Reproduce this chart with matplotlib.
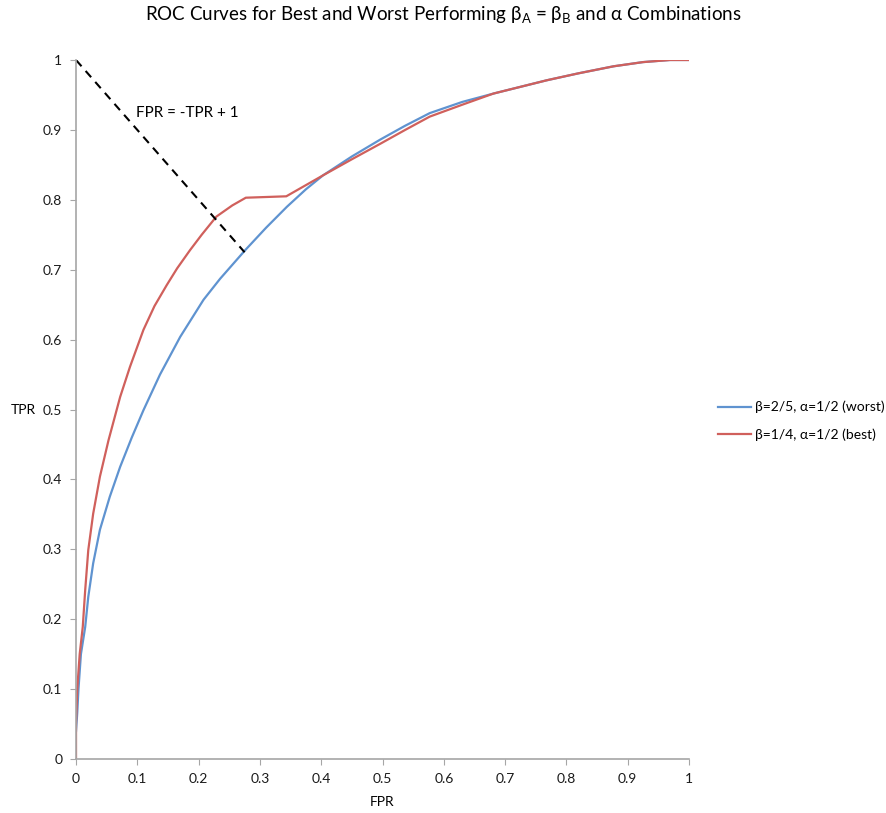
import numpy as np
import matplotlib
matplotlib.use("Agg")
import matplotlib.pyplot as plt

plt.rcParams['font.family'] = ['Lato', 'DejaVu Sans']
plt.rcParams['mathtext.fontset'] = 'custom'
plt.rcParams['mathtext.rm'] = 'Lato'

# worst: beta=2/5, alpha=1/2
fpr_worst = [0.0, 0.002, 0.004, 0.008, 0.015, 0.020, 0.028, 0.039, 0.055, 0.072, 0.091,
             0.110, 0.137, 0.170, 0.208, 0.235, 0.276, 0.310, 0.344, 0.375, 0.403, 0.45,
             0.496, 0.537, 0.577, 0.63, 0.681, 0.768, 0.82, 0.877, 0.925, 0.969, 1.0]
tpr_worst = [0.04, 0.066, 0.1, 0.15, 0.189, 0.232, 0.280, 0.328, 0.375, 0.418, 0.46,
             0.499, 0.55, 0.604, 0.657, 0.687, 0.728, 0.760, 0.790, 0.815, 0.835, 0.862,
             0.886, 0.906, 0.924, 0.940, 0.952, 0.971, 0.981, 0.991, 0.997, 1.0, 1.0]

# best: beta=1/4, alpha=1/2
fpr_best = [0.0, 0.0, 0.002, 0.006, 0.011, 0.015, 0.020, 0.028, 0.039, 0.053, 0.072,
            0.088, 0.110, 0.128, 0.148, 0.165, 0.186, 0.205, 0.229, 0.255, 0.277, 0.343,
            0.403, 0.45, 0.496, 0.537, 0.577, 0.63, 0.681, 0.768, 0.82, 0.877, 0.925,
            0.969, 1.0]
tpr_best = [0.0, 0.05, 0.1, 0.15, 0.189, 0.242, 0.299, 0.351, 0.404, 0.456, 0.518,
            0.561, 0.614, 0.648, 0.678, 0.702, 0.728, 0.750, 0.776, 0.792, 0.803, 0.805,
            0.835, 0.858, 0.880, 0.900, 0.919, 0.936, 0.952, 0.971, 0.981, 0.991, 0.997,
            1.0, 1.0]

# FPR = -TPR + 1 reference segment
diag_x = [0.0, 0.275]
diag_y = [1.0, 0.725]

ticks = [0, 0.1, 0.2, 0.3, 0.4, 0.5, 0.6, 0.7, 0.8, 0.9, 1]
tick_labels = ['0', '0.1', '0.2', '0.3', '0.4', '0.5', '0.6', '0.7', '0.8', '0.9', '1']

fig = plt.figure(figsize=(8.87, 8.13), dpi=100)
ax = fig.add_axes([0.0857, 0.0664, 0.6911, 0.8598])

ax.plot(fpr_worst, tpr_worst, color='#5f93d0', lw=1.6, label='β=2/5, α=1/2 (worst)')
ax.plot(fpr_best, tpr_best, color='#d0605c', lw=1.6, label='β=1/4, α=1/2 (best)')
ax.plot(diag_x, diag_y, color='black', lw=1.5, ls=(0, (4, 3)))
ax.text(0.098, 0.924, 'FPR = -TPR + 1', fontsize=11, va='center', ha='left')

ax.set_xlim(0, 1)
ax.set_ylim(0, 1)
ax.set_xticks(ticks)
ax.set_xticklabels(tick_labels)
ax.set_yticks(ticks)
ax.set_yticklabels(tick_labels)
ax.tick_params(direction='out', length=4, color='#a6a6a6', labelsize=10, labelcolor='#1a1a1a', pad=6)
for s in ['top', 'right']:
    ax.spines[s].set_visible(False)
for s in ['left', 'bottom']:
    ax.spines[s].set_color('#a6a6a6')
    ax.spines[s].set_linewidth(1.2)

ax.set_xlabel('FPR', fontsize=10, labelpad=8)
ax.set_ylabel('TPR', fontsize=10, rotation=0, labelpad=14, va='center')

fig.text(0.5, 0.981, r'ROC Curves for Best and Worst Performing β$_\mathrm{A}$ = β$_\mathrm{B}$ and α Combinations',
         ha='center', va='center', fontsize=13.5)

ax.legend(loc='center left', bbox_to_anchor=(0.795, 0.482), bbox_transform=fig.transFigure,
          frameon=False, fontsize=10, handlelength=2.4, handletextpad=0.3, labelspacing=1.1)

fig.savefig('out.png', dpi=100)
